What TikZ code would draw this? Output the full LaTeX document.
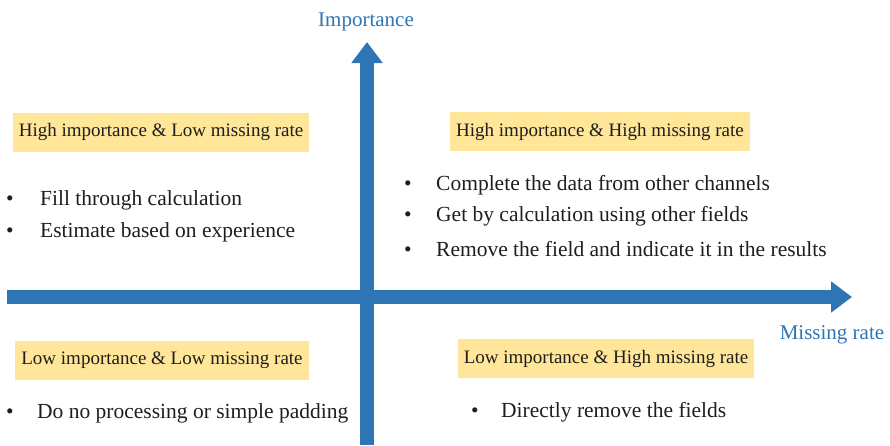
\documentclass[tikz,border=0pt]{standalone}
\usepackage{fontspec}
\setmainfont{Liberation Serif}
\usetikzlibrary{arrows.meta}
\definecolor{axisblue}{RGB}{46,117,182}
\definecolor{tagfill}{RGB}{255,230,153}
\definecolor{bodytext}{RGB}{30,30,30}
\tikzset{
  axis/.style={draw=axisblue, line width=14pt, -{Triangle[width=30pt,length=21pt]}},
  axislabel/.style={text=axisblue, font=\fontsize{21pt}{24pt}\selectfont, inner sep=0pt},
  tag/.style={fill=tagfill, text=bodytext, font=\fontsize{19pt}{22pt}\selectfont, minimum height=39pt, inner xsep=6pt, inner ysep=0pt},
  item/.style={anchor=west, inner sep=0pt, text=bodytext, font=\fontsize{21.5pt}{24pt}\selectfont},
}
\newcommand{\bulletitem}[2]{\makebox[#1][l]{\textbullet}#2}
\begin{document}
\begin{tikzpicture}[x=1pt,y=-1pt]
  \useasboundingbox (0,0) rectangle (890,445);

  % axes
  \coordinate (vbot) at (367,445);
  \coordinate (vtop) at (367,42);
  \coordinate (hleft) at (7,297);
  \coordinate (hright) at (852,297);
  \draw[axis] (vbot) -- (vtop);
  \draw[axis] (hleft) -- (hright);
  \node[axislabel] (ylab) at (366,22) {Importance};
  \node[axislabel] (xlab) at (832,335) {Missing rate};

  % quadrant headings
  \node[tag] (hl) at (161,132) {High importance \& Low missing rate};
  \node[tag] (hh) at (600,131.5) {High importance \& High missing rate};
  \node[tag] (ll) at (162,360.5) {Low importance \& Low missing rate};
  \node[tag] (lh) at (606,358.5) {Low importance \& High missing rate};

  % upper left
  \node[item] (hl1) at (6,200) {\bulletitem{34pt}{Fill through calculation}};
  \node[item] (hl2) at (6,232) {\bulletitem{34pt}{Estimate based on experience}};

  % upper right
  \node[item] (hh1) at (404,185) {\bulletitem{32pt}{Complete the data from other channels}};
  \node[item] (hh2) at (404,216) {\bulletitem{32pt}{Get by calculation using other fields}};
  \node[item] (hh3) at (404,249) {\bulletitem{32pt}{Remove the field and indicate it in the results}};

  % lower left
  \node[item] (ll1) at (6,413) {\bulletitem{31pt}{Do no processing or simple padding}};

  % lower right
  \node[item] (lh1) at (471,412) {\bulletitem{30pt}{Directly remove the fields}};
\end{tikzpicture}
\end{document}
